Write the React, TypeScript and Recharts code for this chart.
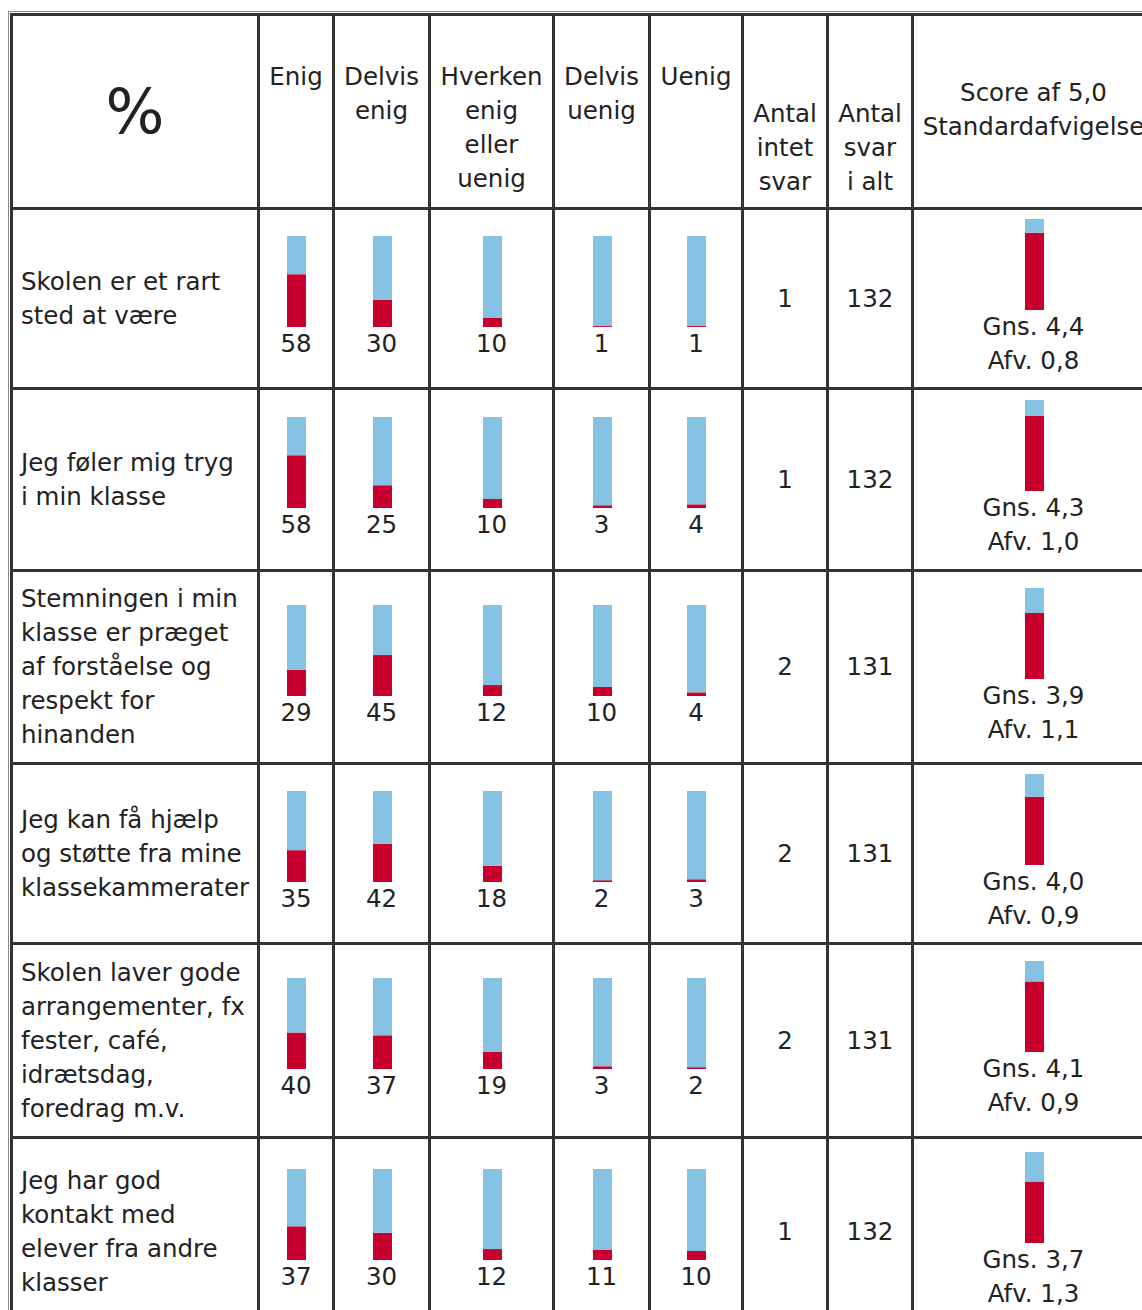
import React, { useEffect } from 'react';
import { BarChart, Bar, XAxis, YAxis } from 'recharts';

const questions = [
  'Skolen er et rart\nsted at være',
  'Jeg føler mig tryg\ni min klasse',
  'Stemningen i min\nklasse er præget\naf forståelse og\nrespekt for\nhinanden',
  'Jeg kan få hjælp\nog støtte fra mine\nklassekammerater',
  'Skolen laver gode\narrangementer, fx\nfester, café,\nidrætsdag,\nforedrag m.v.',
  'Jeg har god\nkontakt med\nelever fra andre\nklasser',
];

const answerHeaders = ['Enig', 'Delvis\nenig', 'Hverken\nenig\neller\nuenig', 'Delvis\nuenig', 'Uenig'];

const enig = [58, 58, 29, 35, 40, 37];
const delvisEnig = [30, 25, 45, 42, 37, 30];
const hverken = [10, 10, 12, 18, 19, 12];
const delvisUenig = [1, 3, 10, 2, 3, 11];
const uenig = [1, 4, 4, 3, 2, 10];
const intetSvar = [1, 1, 2, 2, 2, 1];
const svarIAlt = [132, 132, 131, 131, 131, 132];
const gns = [4.4, 4.3, 3.9, 4.0, 4.1, 3.7];
const afv = [0.8, 1.0, 1.1, 0.9, 0.9, 1.3];

const answerSeries = [enig, delvisEnig, hverken, delvisUenig, uenig];

const RED = '#c8002e';
const BLUE = '#85c1e3';
const LINE = '3px solid #333';

const colWidths = [247, 75, 96, 124, 96, 93, 85, 85, 242];
const rowHeights = [180, 182, 193, 180, 194, 188];

const fmt = (v: number) => v.toFixed(1).replace('.', ',');

// one small stacked bar: red part = value, blue part = rest of the scale
const MiniBar = ({ value, min, max }: { value: number; min: number; max: number }) => {
  const data = [{ name: 'v', filled: value - min, rest: max - value }];
  return (
    <div style={{ display: 'flex', justifyContent: 'center' }}>
      <BarChart width={40} height={91} data={data} margin={{ top: 0, right: 0, bottom: 0, left: 0 }} barSize={19}>
        <XAxis dataKey="name" hide />
        <YAxis hide domain={[0, max - min]} />
        <Bar dataKey="filled" stackId="s" fill={RED} isAnimationActive={false} />
        <Bar dataKey="rest" stackId="s" fill={BLUE} isAnimationActive={false} />
      </BarChart>
    </div>
  );
};

const cell: React.CSSProperties = {
  border: LINE,
  padding: 0,
  textAlign: 'center',
  verticalAlign: 'middle',
  whiteSpace: 'pre',
};

const App: React.FC = () => {
  // the table runs past the window on the right and bottom, like the cropped reference
  useEffect(() => {
    document.documentElement.style.overflow = 'hidden';
    document.body.style.margin = '0';
  }, []);

  return (
    <div style={{ width: 1142, overflow: 'hidden', paddingTop: 11, paddingLeft: 8 }}>
      <div
        style={{
          display: 'inline-block',
          border: '1px solid #8a8a8a',
          padding: 1,
          fontFamily: '"DejaVu Sans", Verdana, sans-serif',
          fontSize: 24.5,
          lineHeight: '34px',
          color: '#222',
        }}
      >
        <table style={{ borderCollapse: 'collapse', tableLayout: 'fixed', width: colWidths.reduce((a, b) => a + b, 0) }}>
          <colgroup>
            {colWidths.map((w, i) => (
              <col key={i} style={{ width: w }} />
            ))}
          </colgroup>
          <tbody>
            <tr style={{ height: 194 }}>
              <td style={{ ...cell, fontSize: 62, lineHeight: '62px' }}>%</td>
              {answerHeaders.map((h, i) => (
                <td key={i} style={{ ...cell, verticalAlign: 'top', paddingTop: 44 }}>
                  {h}
                </td>
              ))}
              <td style={{ ...cell, verticalAlign: 'bottom', paddingBottom: 8 }}>{'Antal\nintet\nsvar'}</td>
              <td style={{ ...cell, verticalAlign: 'bottom', paddingBottom: 8 }}>{'Antal\nsvar\ni alt'}</td>
              <td style={{ ...cell, paddingBottom: 4 }}>{'Score af 5,0\nStandardafvigelse'}</td>
            </tr>
            {questions.map((q, r) => (
              <tr key={r} style={{ height: rowHeights[r] }}>
                <td style={{ ...cell, textAlign: 'left', paddingLeft: 8 }}>{q}</td>
                {answerSeries.map((s, c) => (
                  <td key={c} style={cell}>
                    <MiniBar value={s[r]} min={0} max={100} />
                    <div>{s[r]}</div>
                  </td>
                ))}
                <td style={cell}>{intetSvar[r]}</td>
                <td style={cell}>{svarIAlt[r]}</td>
                <td style={cell}>
                  <MiniBar value={gns[r]} min={1} max={5} />
                  <div>{'Gns. ' + fmt(gns[r])}</div>
                  <div>{'Afv. ' + fmt(afv[r])}</div>
                </td>
              </tr>
            ))}
          </tbody>
        </table>
      </div>
    </div>
  );
};

export default App;
